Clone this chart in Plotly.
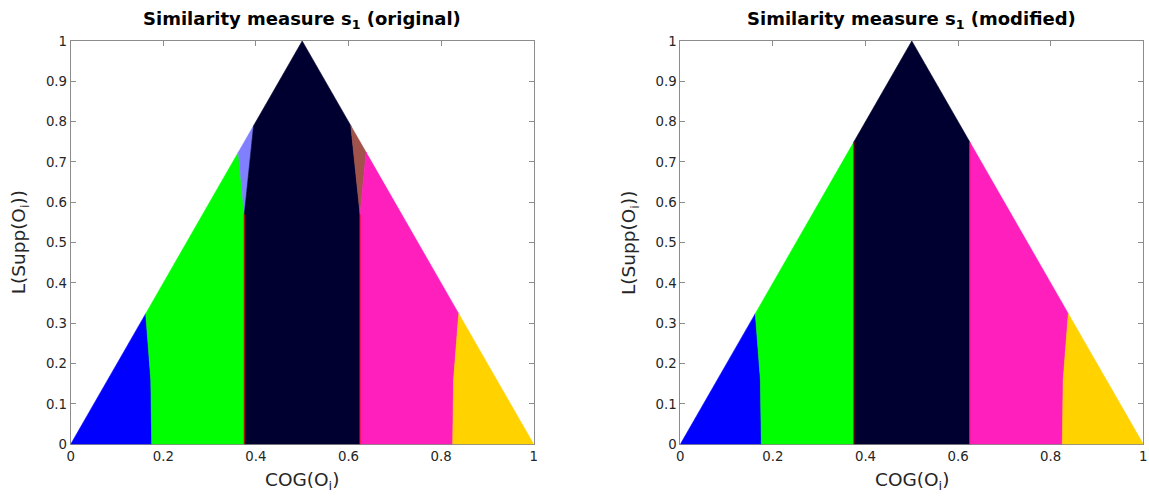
import plotly.graph_objects as go

# Triangle of admissible (COG, L(Supp)) pairs
tri_x = [0.0, 0.5, 1.0]
tri_y = [0.0, 1.0, 0.0]

# Class boundaries (x, y) read from top to bottom
b_blue_green_x = [0.162, 0.173, 0.175]
b_blue_green_y = [0.324, 0.160, 0.0]
b_mag_gold_x = [0.838, 0.827, 0.825]
b_mag_gold_y = [0.324, 0.160, 0.0]

# Original measure: wedge regions near the apex
orig_lb_green_x = [0.362, 0.375]
orig_lb_green_y = [0.724, 0.570]
orig_lb_black_x = [0.395, 0.375]
orig_lb_black_y = [0.790, 0.570]
orig_br_black_x = [0.605, 0.625]
orig_br_black_y = [0.790, 0.570]
orig_br_mag_x = [0.638, 0.625]
orig_br_mag_y = [0.724, 0.570]

# Modified measure: straight boundaries
mod_green_black_x = 0.375
mod_black_mag_x = 0.625
mod_top_y = 0.75

colors = {
    "blue": "#0000ff",
    "green": "#00ff00",
    "lightblue": "#8080ff",
    "navy": "#000030",
    "brown": "#a0524b",
    "magenta": "#ff1fbd",
    "gold": "#ffd200",
}


def poly(xs, ys, color, axis):
    return go.Scatter(
        x=xs + [xs[0]], y=ys + [ys[0]], fill="toself", fillcolor=color,
        mode="lines", line=dict(color=color, width=0.6),
        xaxis="x" + axis, yaxis="y" + axis, hoverinfo="skip", showlegend=False,
    )


def red_line(x, y0, y1, axis):
    return go.Scatter(
        x=[x, x], y=[y0, y1], mode="lines", line=dict(color="#ff0000", width=0.8),
        xaxis="x" + axis, yaxis="y" + axis, hoverinfo="skip", showlegend=False,
    )


traces = []

# ---- left panel (original) ----
ax = ""
bx = [0.0, b_blue_green_x[2], b_blue_green_x[1], b_blue_green_x[0]]
by = [0.0, b_blue_green_y[2], b_blue_green_y[1], b_blue_green_y[0]]
traces.append(poly(bx, by, colors["blue"], ax))

gx = [b_blue_green_x[2], 0.375, orig_lb_green_x[1], orig_lb_green_x[0],
      b_blue_green_x[0], b_blue_green_x[1]]
gy = [b_blue_green_y[2], 0.0, orig_lb_green_y[1], orig_lb_green_y[0],
      b_blue_green_y[0], b_blue_green_y[1]]
traces.append(poly(gx, gy, colors["green"], ax))

lbx = [orig_lb_green_x[0], orig_lb_green_x[1], orig_lb_black_x[0]]
lby = [orig_lb_green_y[0], orig_lb_green_y[1], orig_lb_black_y[0]]
traces.append(poly(lbx, lby, colors["lightblue"], ax))

kx = [0.375, 0.625, orig_br_black_x[1], orig_br_black_x[0], tri_x[1],
      orig_lb_black_x[0], orig_lb_black_x[1]]
ky = [0.0, 0.0, orig_br_black_y[1], orig_br_black_y[0], tri_y[1],
      orig_lb_black_y[0], orig_lb_black_y[1]]
traces.append(poly(kx, ky, colors["navy"], ax))

brx = [orig_br_black_x[0], orig_br_black_x[1], orig_br_mag_x[0]]
bry = [orig_br_black_y[0], orig_br_black_y[1], orig_br_mag_y[0]]
traces.append(poly(brx, bry, colors["brown"], ax))

mx = [0.625, b_mag_gold_x[2], b_mag_gold_x[1], b_mag_gold_x[0],
      orig_br_mag_x[0], orig_br_mag_x[1]]
my = [0.0, b_mag_gold_y[2], b_mag_gold_y[1], b_mag_gold_y[0],
      orig_br_mag_y[0], orig_br_mag_y[1]]
traces.append(poly(mx, my, colors["magenta"], ax))

ox = [b_mag_gold_x[2], 1.0, b_mag_gold_x[0], b_mag_gold_x[1]]
oy = [b_mag_gold_y[2], 0.0, b_mag_gold_y[0], b_mag_gold_y[1]]
traces.append(poly(ox, oy, colors["gold"], ax))

traces.append(red_line(0.375, 0.0, orig_lb_green_y[1], ax))
traces.append(red_line(0.625, 0.0, orig_br_mag_y[1], ax))

# ---- right panel (modified) ----
ax = "2"
traces.append(poly(bx, by, colors["blue"], ax))
gx2 = [b_blue_green_x[2], mod_green_black_x, mod_green_black_x,
       b_blue_green_x[0], b_blue_green_x[1]]
gy2 = [b_blue_green_y[2], 0.0, mod_top_y, b_blue_green_y[0], b_blue_green_y[1]]
traces.append(poly(gx2, gy2, colors["green"], ax))
kx2 = [mod_green_black_x, mod_black_mag_x, mod_black_mag_x, tri_x[1], mod_green_black_x]
ky2 = [0.0, 0.0, mod_top_y, tri_y[1], mod_top_y]
traces.append(poly(kx2, ky2, colors["navy"], ax))
mx2 = [mod_black_mag_x, b_mag_gold_x[2], b_mag_gold_x[1], b_mag_gold_x[0], mod_black_mag_x]
my2 = [0.0, b_mag_gold_y[2], b_mag_gold_y[1], b_mag_gold_y[0], mod_top_y]
traces.append(poly(mx2, my2, colors["magenta"], ax))
traces.append(poly(ox, oy, colors["gold"], ax))
traces.append(red_line(mod_green_black_x, 0.0, mod_top_y, ax))
traces.append(red_line(mod_black_mag_x, 0.0, mod_top_y, ax))

fig = go.Figure(traces)

W, H = 1149, 498
left_dom = [70.7 / W, 533.7 / W]
right_dom = [680.3 / W, 1143.3 / W]
y_dom = [(H - 444.3) / H, (H - 41.0) / H]

axis_common = dict(
    range=[0, 1], showline=True, mirror="ticks", linecolor="#8c8c8c", linewidth=1,
    ticks="inside", ticklen=5, tickcolor="#8c8c8c", showgrid=False, zeroline=False,
    tickfont=dict(family="DejaVu Sans", size=13.3, color="#262626"),
    layer="below traces", fixedrange=True, automargin=False,
)
xt = dict(tickmode="array", tickvals=[0, 0.2, 0.4, 0.6, 0.8, 1],
          ticktext=["0", "0.2", "0.4", "0.6", "0.8", "1"])
yv = [i / 10 for i in range(11)]
yt = dict(tickmode="array", tickvals=yv,
          ticktext=["0"] + [f"{v:.1f}" for v in yv[1:10]] + ["1"])

fig.update_layout(
    width=W, height=H, autosize=False, margin=dict(l=0, r=0, t=0, b=0, pad=0),
    paper_bgcolor="white", plot_bgcolor="white",
    xaxis=dict(domain=left_dom, anchor="y", **axis_common, **xt),
    yaxis=dict(domain=y_dom, anchor="x", **axis_common, **yt),
    xaxis2=dict(domain=right_dom, anchor="y2", **axis_common, **xt),
    yaxis2=dict(domain=y_dom, anchor="x2", **axis_common, **yt),
)

title_font = dict(family="DejaVu Sans", size=18, color="#000000")
label_font = dict(family="DejaVu Sans", size=18.5, color="#262626")
annotations = []
for dom, txt in [(left_dom, "original"), (right_dom, "modified")]:
    cx = (dom[0] + dom[1]) / 2
    annotations.append(dict(
        x=cx, y=y_dom[1], xref="paper", yref="paper", xanchor="center",
        yanchor="bottom", yshift=7,
        text=f"<b>Similarity measure s<sub>1</sub> ({txt})</b>", showarrow=False,
        font=title_font,
    ))
    annotations.append(dict(
        x=cx, y=(H - 481) / H, xref="paper", yref="paper", xanchor="center",
        yanchor="middle",
        text="COG(O<sub>i</sub>)", showarrow=False, font=label_font,
    ))
    annotations.append(dict(
        x=dom[0] - 51 / W, y=(y_dom[0] + y_dom[1]) / 2, xref="paper", yref="paper",
        xanchor="center", yanchor="middle", text="L(Supp(O<sub>i</sub>))",
        textangle=-90, showarrow=False, font=label_font,
    ))
fig.update_layout(annotations=annotations)

fig.write_html("out.html")
